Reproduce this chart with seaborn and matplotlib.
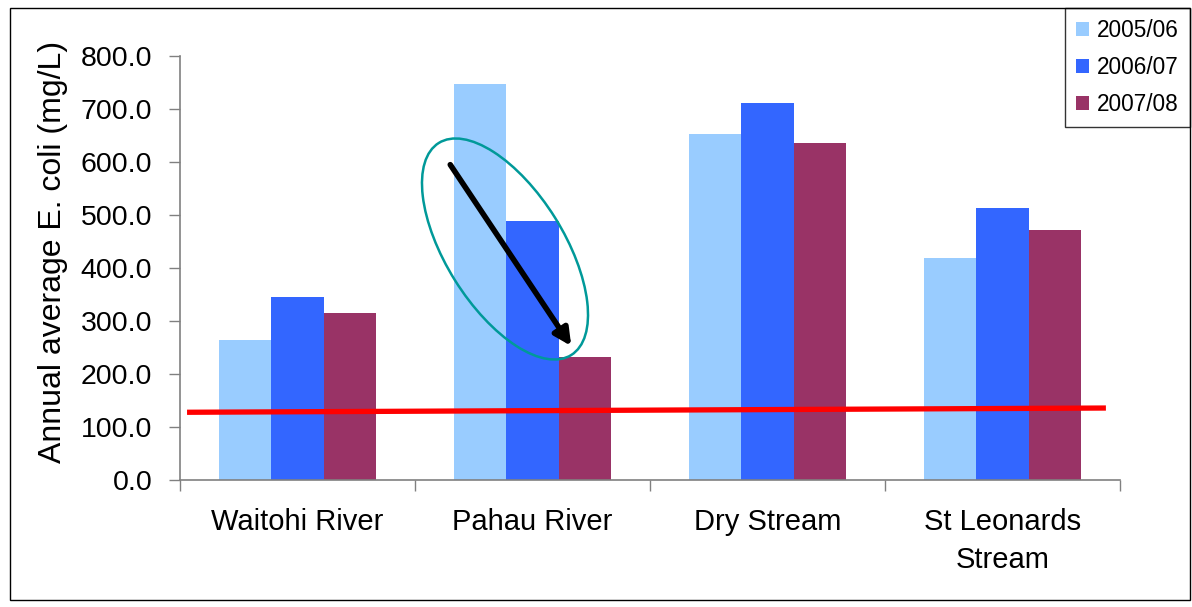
import pandas as pd
import seaborn as sns
import matplotlib.pyplot as plt
from matplotlib.patches import Ellipse
from matplotlib.transforms import Affine2D

# Values
sites = ["Waitohi River", "Pahau River", "Dry Stream", "St Leonards\nStream"]
years = ["2005/06", "2006/07", "2007/08"]
ecoli_0506 = [264, 747, 653, 419]
ecoli_0607 = [345, 489, 711, 513]
ecoli_0708 = [315, 232, 636, 472]
guideline = [128, 136]  # hand-drawn red line, start and end
colors = ["#99CCFF", "#3366FF", "#993366"]

df = pd.DataFrame({
    "site": sites * 3,
    "year": [y for y in years for _ in sites],
    "value": ecoli_0506 + ecoli_0607 + ecoli_0708,
})

sns.set_style("white")
plt.rcParams["font.family"] = ["Liberation Sans", "DejaVu Sans"]

fig = plt.figure(figsize=(11.92, 6.07), dpi=100)
ax = fig.add_axes([0.151, 0.209, 0.7886, 0.6988])

sns.barplot(data=df, x="site", y="value", hue="year", palette=colors,
            width=0.67, saturation=1, linewidth=0, ax=ax, legend=True)

ax.set_xlim(-0.5, 3.5)
ax.set_ylim(0, 800)
ax.set_yticks(range(0, 801, 100))
ax.set_yticklabels([f"{v:.1f}" for v in range(0, 801, 100)])
ax.set_xticks(range(len(sites)))
ax.set_xticklabels(sites, linespacing=1.45)
ax.set_xlabel("")
ax.set_ylabel("Annual average E. coli (mg/L)", fontsize=23, color="black")
ax.yaxis.set_label_coords(-0.119, 0.538)

# category boundary ticks on the x axis
ax.set_xticks([-0.5, 0.5, 1.5, 2.5, 3.5], minor=True)
ax.tick_params(axis="x", which="major", length=0, pad=20, labelsize=21,
               labelcolor="black")
ax.tick_params(axis="x", which="minor", length=8, width=1, color="#808080",
               direction="out", bottom=True)
ax.tick_params(axis="y", length=8, width=1, color="#808080", direction="out",
               left=True, pad=12, labelsize=20.5, labelcolor="black")

for side in ["top", "right"]:
    ax.spines[side].set_visible(False)
for side in ["left", "bottom"]:
    ax.spines[side].set_color("#808080")
    ax.spines[side].set_linewidth(1.2)

# guideline
ax.plot([-0.47, 3.44], guideline, color="red", lw=3.8, solid_capstyle="butt",
        zorder=5)

# annotation: arrow and ellipse around Pahau River bars
ax.annotate("", xy=(1.165, 253), xytext=(0.65, 595),
            arrowprops=dict(arrowstyle="-|>,head_length=1.0,head_width=0.5",
                            color="black", lw=4, shrinkA=0, shrinkB=0),
            zorder=6)
pix = Affine2D().scale(1, -1).translate(0, 607)
ell = Ellipse((505, 249), width=250, height=118, angle=58, fill=False,
              edgecolor="#009999", lw=1.8, transform=pix)
fig.add_artist(ell)

leg = ax.legend(loc="upper right", bbox_to_anchor=(1190 / 1192, 1 - 8 / 607),
                bbox_transform=fig.transFigure, frameon=True, fontsize=16.3,
                handlelength=0.6, handleheight=0.6, handletextpad=0.35,
                labelspacing=0.62, borderpad=0.48, borderaxespad=0,
                fancybox=False)
leg.get_frame().set_edgecolor("black")
leg.get_frame().set_linewidth(1)
for t in leg.get_texts():
    t.set_color("black")

# outer border around the chart
fig.patches.append(plt.Rectangle((10 / 1192, 7 / 607), 1180 / 1192, 592 / 607,
                                 transform=fig.transFigure, fill=False,
                                 edgecolor="black", lw=1))

fig.savefig("out.png", dpi=100)
